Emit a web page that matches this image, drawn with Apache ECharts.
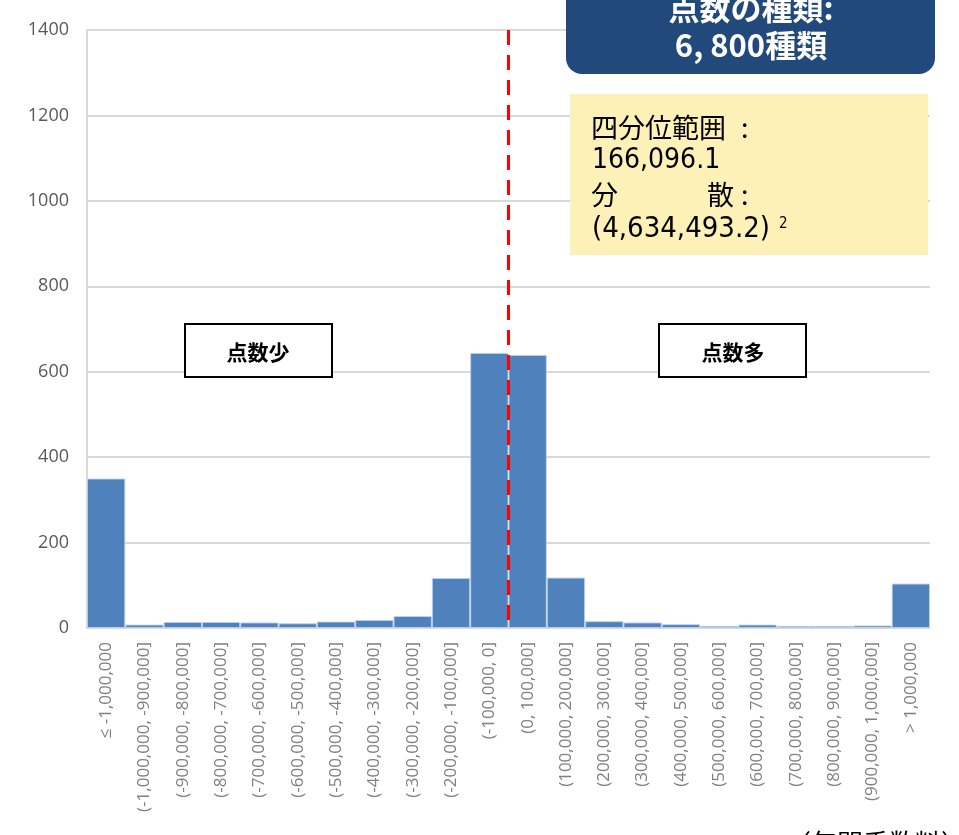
<!DOCTYPE html>
<html>
<head>
<meta charset="utf-8">
<script src="https://cdn.jsdelivr.net/npm/echarts@6/dist/echarts.min.js"></script>
<style>
html,body{margin:0;padding:0;background:#fff;}
#c{width:959px;height:835px;}
</style>
</head>
<body>
<div id="c"></div>
<script>
const categories = [
  "≤ -1,000,000",
  "(-1,000,000, -900,000]",
  "(-900,000, -800,000]",
  "(-800,000, -700,000]",
  "(-700,000, -600,000]",
  "(-600,000, -500,000]",
  "(-500,000, -400,000]",
  "(-400,000, -300,000]",
  "(-300,000, -200,000]",
  "(-200,000, -100,000]",
  "(-100,000, 0]",
  "(0, 100,000]",
  "(100,000, 200,000]",
  "(200,000, 300,000]",
  "(300,000, 400,000]",
  "(400,000, 500,000]",
  "(500,000, 600,000]",
  "(600,000, 700,000]",
  "(700,000, 800,000]",
  "(800,000, 900,000]",
  "(900,000, 1,000,000]",
  "> 1,000,000"
];
const counts = [350, 8, 14, 14, 13, 11, 15, 19, 28, 117, 644, 639, 118, 16, 13, 9, 5, 8, 5, 5, 6, 104];
const yTicks = { min: 0, max: 1400, interval: 200 };
const dividerPosition = 11; // boundary between (-100,000, 0] and (0, 100,000]
const dividerLine = [[dividerPosition, 1400], [dividerPosition, 0]];

const chart = echarts.init(document.getElementById('c'), null, { renderer: 'canvas' });
const jp = '"Noto Sans CJK JP", "Noto Sans", sans-serif';
const narrow = '"Liberation Sans Narrow", "DejaVu Sans Condensed", sans-serif';
const option = {
  animation: false,
  backgroundColor: '#ffffff',
  grid: { left: 87, right: 29, top: 30, bottom: 207, containLabel: false },
  xAxis: [
    {
      type: 'category',
      data: categories,
      boundaryGap: true,
      axisLine: { show: true, lineStyle: { color: '#d9d9d9', width: 1 } },
      axisTick: { show: false },
      axisLabel: {
        rotate: 90,
        interval: 0,
        color: '#808080',
        fontSize: 17,
        fontFamily: '"Open Sans", "DejaVu Sans", sans-serif',
        margin: 14
      },
      splitLine: { show: false }
    },
    {
      type: 'value',
      min: 0,
      max: 22,
      show: false
    }
  ],
  yAxis: {
    type: 'value',
    min: yTicks.min,
    max: yTicks.max,
    interval: yTicks.interval,
    axisLine: { show: true, lineStyle: { color: '#d9d9d9', width: 2 } },
    axisTick: { show: false },
    axisLabel: {
      color: '#595959',
      fontSize: 18,
      fontFamily: '"Open Sans", "DejaVu Sans", sans-serif',
      margin: 18,
      formatter: function (v) { return String(v); }
    },
    splitLine: { lineStyle: { color: '#d9d9d9', width: 2 } }
  },
  series: [
    {
      type: 'bar',
      xAxisIndex: 0,
      data: counts,
      barCategoryGap: '0%',
      itemStyle: { color: '#4f81bd', borderColor: 'rgba(190,210,235,0.9)', borderWidth: 1 }
    },
    {
      type: 'line',
      xAxisIndex: 1,
      data: dividerLine,
      symbol: 'none',
      lineStyle: { color: '#ff0000', width: 3, type: [15, 10] },
      z: 5
    }
  ],
  graphic: [
    {
      type: 'rect',
      shape: { x: 566, y: -30, width: 369, height: 104, r: 16 },
      style: { fill: '#21497c' },
      z: 10
    },
    {
      type: 'text',
      x: 751, y: 8,
      style: { text: '点数の種類:', fill: '#ffffff', font: 'bold 31px ' + jp, textAlign: 'center', textVerticalAlign: 'middle' },
      z: 11
    },
    {
      type: 'text',
      x: 751, y: 45,
      style: { text: '6, 800種類', fill: '#ffffff', font: 'bold 31px ' + jp, textAlign: 'center', textVerticalAlign: 'middle' },
      z: 11
    },
    {
      type: 'rect',
      shape: { x: 570, y: 94, width: 358, height: 161 },
      style: { fill: '#fdf1b8' },
      z: 10
    },
    {
      type: 'text', x: 591, y: 128,
      style: { text: '四分位範囲', fill: '#000', font: '27px ' + jp, textVerticalAlign: 'middle' }, z: 11
    },
    {
      type: 'text', x: 741, y: 128,
      style: { text: ':', fill: '#000', font: '27px ' + jp, textVerticalAlign: 'middle' }, z: 11
    },
    {
      type: 'text', x: 592, y: 161,
      style: { text: '166,096.1', fill: '#000', font: '28px ' + narrow, textVerticalAlign: 'middle' }, z: 11
    },
    {
      type: 'text', x: 591, y: 195,
      style: { text: '分', fill: '#000', font: '27px ' + jp, textVerticalAlign: 'middle' }, z: 11
    },
    {
      type: 'text', x: 707, y: 195,
      style: { text: '散', fill: '#000', font: '27px ' + jp, textVerticalAlign: 'middle' }, z: 11
    },
    {
      type: 'text', x: 741, y: 195,
      style: { text: ':', fill: '#000', font: '27px ' + jp, textVerticalAlign: 'middle' }, z: 11
    },
    {
      type: 'text', x: 592, y: 229,
      style: { text: '(4,634,493.2)', fill: '#000', font: '29px ' + narrow, textVerticalAlign: 'middle' }, z: 11
    },
    {
      type: 'text', x: 779, y: 224,
      style: { text: '2', fill: '#000', font: '15px ' + narrow, textVerticalAlign: 'middle' }, z: 11
    },
    {
      type: 'rect',
      shape: { x: 185, y: 324, width: 147, height: 53 },
      style: { fill: '#ffffff', stroke: '#000000', lineWidth: 2 },
      z: 10
    },
    {
      type: 'text', x: 258, y: 352,
      style: { text: '点数少', fill: '#000', font: 'bold 21px ' + jp, textAlign: 'center', textVerticalAlign: 'middle' }, z: 11
    },
    {
      type: 'rect',
      shape: { x: 659, y: 324, width: 147, height: 53 },
      style: { fill: '#ffffff', stroke: '#000000', lineWidth: 2 },
      z: 10
    },
    {
      type: 'text', x: 733, y: 352,
      style: { text: '点数多', fill: '#000', font: 'bold 21px ' + jp, textAlign: 'center', textVerticalAlign: 'middle' }, z: 11
    },
    {
      type: 'text', x: 876, y: 843,
      style: { text: '（年間手数料）', fill: '#000', font: '26px ' + jp, textAlign: 'center', textVerticalAlign: 'middle' }, z: 11
    }
  ]
};
chart.setOption(option);
</script>
</body>
</html>
